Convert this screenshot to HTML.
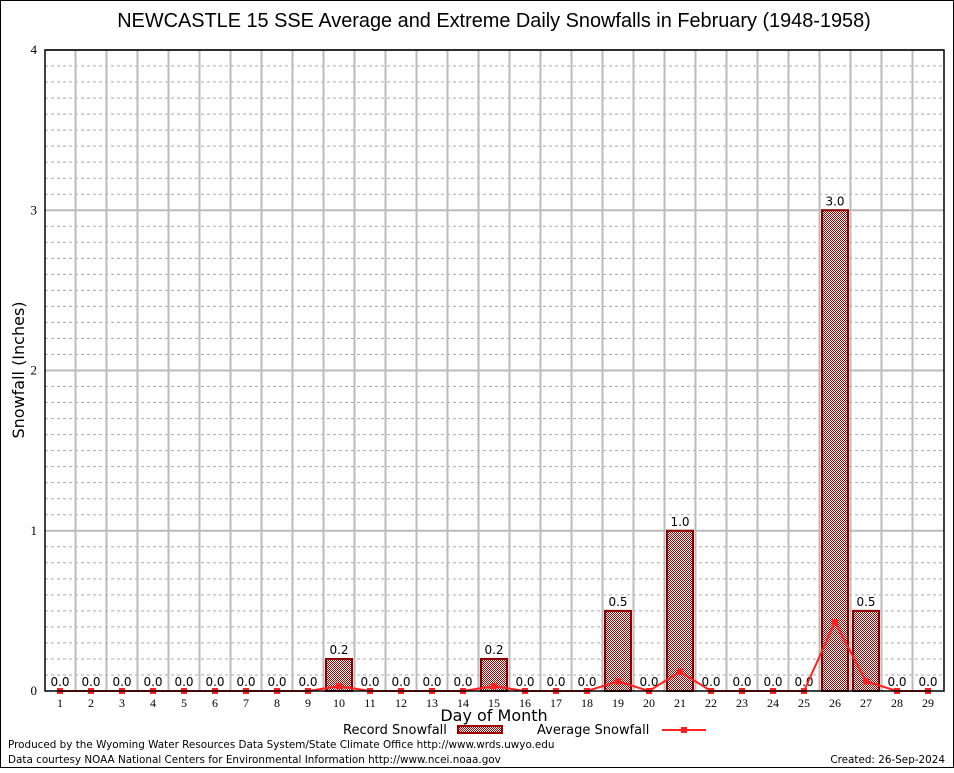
<!DOCTYPE html>
<html><head><meta charset="utf-8"><style>
body{margin:0;background:#fff}
svg text{font-family:"DejaVu Sans","Liberation Sans",sans-serif}
svg text.serif{font-family:"Liberation Serif",serif}
svg text.lsans{font-family:"Liberation Sans",sans-serif}
</style></head><body>
<svg id="c" width="954" height="768" xmlns="http://www.w3.org/2000/svg">
<defs><pattern id="hatch" width="2" height="2" patternUnits="userSpaceOnUse"><rect width="2" height="2" fill="#fff"/><rect width="1" height="1" fill="#b00000"/><rect x="1" y="1" width="1" height="1" fill="#b00000"/></pattern></defs>
<rect x="0.5" y="0.5" width="953" height="767" fill="#fff" stroke="#000"/>
<text class="lsans" x="494" y="27" font-size="19.9" text-anchor="middle">NEWCASTLE 15 SSE Average and Extreme Daily Snowfalls in February (1948-1958)</text>
<g id="grid"></g><g id="bars"></g><g id="line"></g><g id="axes"></g>
<text x="24" y="370" font-size="16" text-anchor="middle" transform="rotate(-90 24 370)">Snowfall (Inches)</text>
<text x="494" y="721" font-size="16" text-anchor="middle">Day of Month</text>
<g>
<text x="343" y="734" font-size="13">Record Snowfall</text>
<rect x="458" y="726" width="44" height="7" fill="url(#hatch)" stroke="#a00000" stroke-width="2"/>
<text x="537" y="734" font-size="13">Average Snowfall</text>
<line x1="662" y1="730" x2="706" y2="730" stroke="#ff2020" stroke-width="2"/>
<rect x="681" y="727" width="6" height="6" fill="#ff2020"/>
</g>
<text x="8" y="748" font-size="10.4">Produced by the Wyoming Water Resources Data System/State Climate Office http://www.wrds.uwyo.edu</text>
<text x="8" y="763" font-size="10.4">Data courtesy NOAA National Centers for Environmental Information http://www.ncei.noaa.gov</text>
<text x="945" y="763" font-size="10.4" text-anchor="end">Created: 26-Sep-2024</text>
</svg>
<script>
const days=[1,2,3,4,5,6,7,8,9,10,11,12,13,14,15,16,17,18,19,20,21,22,23,24,25,26,27,28,29];
const record=[0,0,0,0,0,0,0,0,0,0.2,0,0,0,0,0.2,0,0,0,0.5,0,1.0,0,0,0,0,3.0,0.5,0,0];
const average=[0,0,0,0,0,0,0,0,0,0.03,0,0,0,0,0.03,0,0,0,0.06,0,0.12,0,0,0,0,0.43,0.06,0,0];
const yTicks=[0,1,2,3,4];
const NS="http://www.w3.org/2000/svg";
const L=45,R=944,T=50,B=691;
const x=d=>60+31*(d-1);
const y=v=>B-(v/4)*(B-T);
function mk(p,tag,a){const e=document.createElementNS(NS,tag);for(const k in a)e.setAttribute(k,a[k]);p.appendChild(e);return e;}
const grid=document.getElementById('grid'),bars=document.getElementById('bars'),line=document.getElementById('line'),axes=document.getElementById('axes');
for(let i=1;i<40;i++){if(i%10===0)continue;const v=i/10;const l=mk(grid,'line',{x1:L,x2:R,y1:y(v),y2:y(v),stroke:'#aaa','stroke-dasharray':'3,3','stroke-width':1});

}
yTicks.forEach(v=>{if(v>0){const l=mk(grid,'line',{x1:L,x2:R,y1:y(v),y2:y(v),stroke:'#bbb','stroke-width':2});

}
const t=mk(axes,'text',{x:L-8,y:y(v)+4,'font-size':13,'text-anchor':'end','class':'serif'});t.textContent=v;

});
for(let i=0;i<days.length-1;i++){const xx=x(days[i])+15.5;const l=mk(grid,'line',{x1:xx,x2:xx,y1:T,y2:B,stroke:'#bbb','stroke-width':2});

}
days.forEach((d,i)=>{const v=record[i];
if(v>0){const r=mk(bars,'rect',{x:x(d)-13,y:y(v),width:26,height:B-y(v),fill:'url(#hatch)',stroke:'#8b0000','stroke-width':2});

}
const t=mk(bars,'text',{x:x(d),y:y(v)-5,'font-size':12,'text-anchor':'middle'});t.textContent=v.toFixed(1);


const tl=mk(axes,'text',{x:x(d),y:B+16,'font-size':12,'text-anchor':'middle','class':'serif'});tl.textContent=d;

});
const pl=mk(line,'polyline',{points:days.map((d,i)=>x(d)+','+y(average[i])).join(' '),fill:'none',stroke:'#ff2020','stroke-width':2});


days.forEach((d,i)=>{const c=mk(line,'rect',{x:x(d)-3,y:y(average[i])-3,width:6,height:6,fill:'#ff2020'});

});
const f=mk(axes,'rect',{x:L,y:T,width:R-L,height:B-T,fill:'none',stroke:'#000','stroke-width':1.5});


</script>
</body></html>
